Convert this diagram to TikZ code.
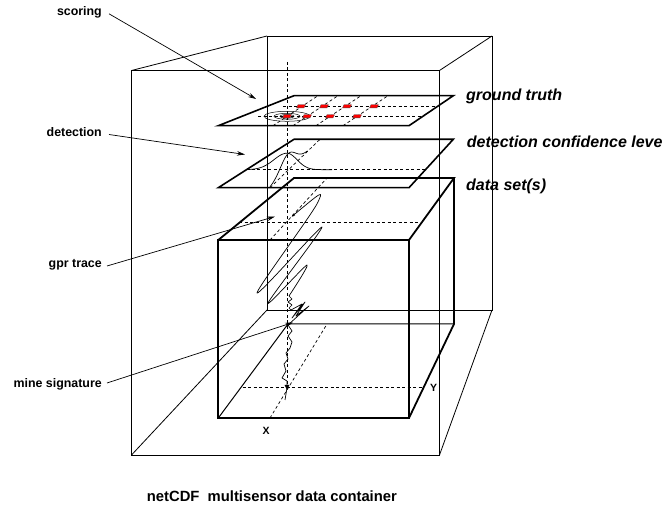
\documentclass[tikz,border=0pt]{standalone}
\usepackage{fontspec}
\setmainfont{Liberation Sans}
\usetikzlibrary{arrows.meta}
\begin{document}
\begin{tikzpicture}[x=1pt,y=-1pt,
 thinl/.style={line width=0.8pt},
 boxedge/.style={line width=1.8pt, line join=miter},
 hidden/.style={line width=1pt},
 planeedge/.style={line width=1.6pt, line join=miter},
 dsh/.style={line width=0.7pt, dash pattern=on 3pt off 2.5pt},
 arr/.style={line width=0.7pt, -{Stealth[length=8pt,width=4.5pt]}},
 curve/.style={line width=0.7pt},
 lbl/.style={font=\fontsize{12.4}{14}\selectfont\bfseries, inner sep=0pt, anchor=east},
 rlbl/.style={font=\fontsize{16}{18}\selectfont\bfseries\itshape, inner sep=0pt, anchor=west},
 axl/.style={font=\fontsize{10.5}{12}\selectfont\bfseries, inner sep=0pt},
 captext/.style={font=\fontsize{14.8}{17}\selectfont\bfseries, inner sep=0pt, anchor=west},
 reddash/.style={fill=red, draw=black!70, line width=0.3pt}
]
\useasboundingbox (0,0) rectangle (664,510);

% ---------- outer container box ----------
\coordinate (OF1) at (131.5,70.5);
\coordinate (OF2) at (439.5,70.5);
\coordinate (OF3) at (439.5,455);
\coordinate (OF4) at (131.5,455);
\coordinate (OB1) at (267,36);
\coordinate (OB2) at (492,36);
\coordinate (OB3) at (492,310);
\coordinate (OB4) at (267,310);
\draw[thinl] (OF1) -- (OF2) -- (OF3) -- (OF4) -- cycle;
\draw[thinl] (OB1) -- (OB2) -- (OB3) -- (OB4) -- cycle;
\draw[thinl] (OF1) -- (OB1);
\draw[thinl] (OF2) -- (OB2);
\draw[thinl] (OF3) -- (OB3);
\draw[thinl] (OF4) -- (OB4);

% ---------- inner data set box ----------
\coordinate (IF1) at (218.3,240);
\coordinate (IF2) at (409,240);
\coordinate (IF3) at (409,418);
\coordinate (IF4) at (218.3,418);
\coordinate (IB1) at (294,178);
\coordinate (IB2) at (454,178);
\coordinate (IB3) at (454,324);
\coordinate (IB4) at (288,324);

% ---------- planes ----------
\coordinate (G1) at (218.3,125.7);
\coordinate (G2) at (294,95.7);
\coordinate (G3) at (453.3,95.7);
\coordinate (G4) at (409,125.7);
\coordinate (D1) at (218.3,187.7);
\coordinate (D2) at (294,139.3);
\coordinate (D3) at (453.3,139.3);
\coordinate (D4) at (409,187.7);

% ---------- dashed grid lines ----------
\coordinate (V1) at (287,62);
\coordinate (V2) at (287,388);
\draw[dsh] (V1) -- (V2);
% top face of data set
\draw[dsh] (239,222.7) -- (421.6,222.7);
\draw[dsh] (270,240) -- (327,178);
% bottom face of data set
\draw[dsh] (242.5,387.7) -- (423.5,387.7);
\draw[dsh] (270,418) -- (327,324);
% detection plane
\draw[dsh] (246,169.7) -- (425,169.7);
\draw[dsh] (270,187.7) -- (320,139.3);
% ground truth plane
\draw[dsh] (283,106.3) -- (437.5,106.3);
\draw[dsh] (258,116.3) -- (422.8,116.3);
\foreach \b/\t in {273/318, 293/338, 316/361, 343/388}
  \draw[dsh] (\b,125.7) -- (\t,95.7);

% ---------- plane outlines ----------
\draw[planeedge] (G1) -- (G2) -- (G3) -- (G4) -- cycle;
\draw[planeedge] (D1) -- (D2) -- (D3) -- (D4) -- cycle;

% ---------- box edges ----------
\draw[hidden] (IF4) -- (IB4) -- (IB3);
\draw[boxedge] (IF1) -- (IF2) -- (IF3) -- (IF4) -- cycle;
\draw[boxedge] (IF1) -- (IB1) -- (IB2) -- (IF2);
\draw[boxedge] (IB2) -- (IB3) -- (IF3);

% ---------- scoring ellipses and targets ----------
\draw[line width=0.5pt] (287,116.3) ellipse [x radius=23, y radius=5];
\draw[line width=0.5pt] (287,116.3) ellipse [x radius=13, y radius=3];
\draw[line width=0.5pt] (287,116.3) ellipse [x radius=7, y radius=1.8];
\foreach \cx/\cy in {301/106.3, 324/106.3, 347/106.3, 374/106.3,
                     287/116.3, 307/116.3, 330/116.3, 357/116.3}
  \draw[reddash] (\cx-4.5,\cy+1.6) -- (\cx+3,\cy+1.6) -- (\cx+4.5,\cy-1.6) -- (\cx-3,\cy-1.6) -- cycle;

% ---------- detection confidence bumps ----------
\draw[curve] plot[domain=246:287, samples=50] (\x, {169.7-16.5*exp(-((\x-287)/13)^2/2)});
\draw[curve] plot[domain=287:332, samples=50] (\x, {169.7-16.5*exp(-((\x-287)/10)^2/2)});
\draw[curve] plot[domain=0:0.75, samples=60] ({270+50*\x}, {187.7-48.4*\x-16.5*exp(-((\x-0.36)/0.15)^2/2)});

% ---------- gpr trace ----------
\draw[curve, line join=round, {Stealth[length=3.5pt,width=3pt]}-] plot[smooth, tension=0.55] coordinates {
  (291.7,216.7) (318,202) (257,293) (322,227) (268,303) (307,265) (289,296)};
\draw[curve, line join=round] (289,296) -- (292,299) -- (288,302) -- (292,305) -- (289,308) -- (291,310)
  -- (302,304) -- (292,318) -- (305,302) -- (296,316) -- (309,306) -- (288,325) -- (292,331) -- (288,336)
  -- (292,342) -- (290,348) -- (286,353) -- (288,359) -- (284,364) -- (286,371) -- (282,378)
  -- (287,381) -- (287,388) -- (285,400);
\fill (284.6,385) -- (289.4,385) -- (287,390) -- cycle;

% ---------- left labels and arrows ----------
\node[lbl] (scoring) at (102,12.3) {scoring};
\node[lbl] (detection) at (102,132.5) {detection};
\node[lbl] (gpr) at (102,265) {gpr trace};
\node[lbl] (mine) at (102,384) {mine signature};
\coordinate (Tscore) at (256,99);
\coordinate (Tdet) at (245,154.5);
\coordinate (Tgpr) at (275,216.5);
\coordinate (Tmine) at (293,322.5);
\draw[arr] ([xshift=7pt,yshift=-1.5pt]scoring.east) -- (Tscore);
\draw[arr] ([xshift=7pt,yshift=-2pt]detection.east) -- (Tdet);
\draw[arr] ([xshift=5pt,yshift=-1pt]gpr.east) -- (Tgpr);
\draw[arr] ([xshift=5pt,yshift=1pt]mine.east) -- (Tmine);

% ---------- right labels ----------
\node[rlbl] (gt) at (466,96.7) {ground truth};
\node[rlbl] (dcl) at (466.7,141.7) {detection confidence leve};
\node[rlbl] (ds) at (466,186.7) {data set(s)};

% ---------- axis labels ----------
\node[axl] (xl) at (266,430.5) {X};
\node[axl] (yl) at (433.5,387.5) {Y};

% ---------- caption ----------
\node[captext] (caption) at (146.7,496) {netCDF\ \ multisensor data container};
\end{tikzpicture}
\end{document}
